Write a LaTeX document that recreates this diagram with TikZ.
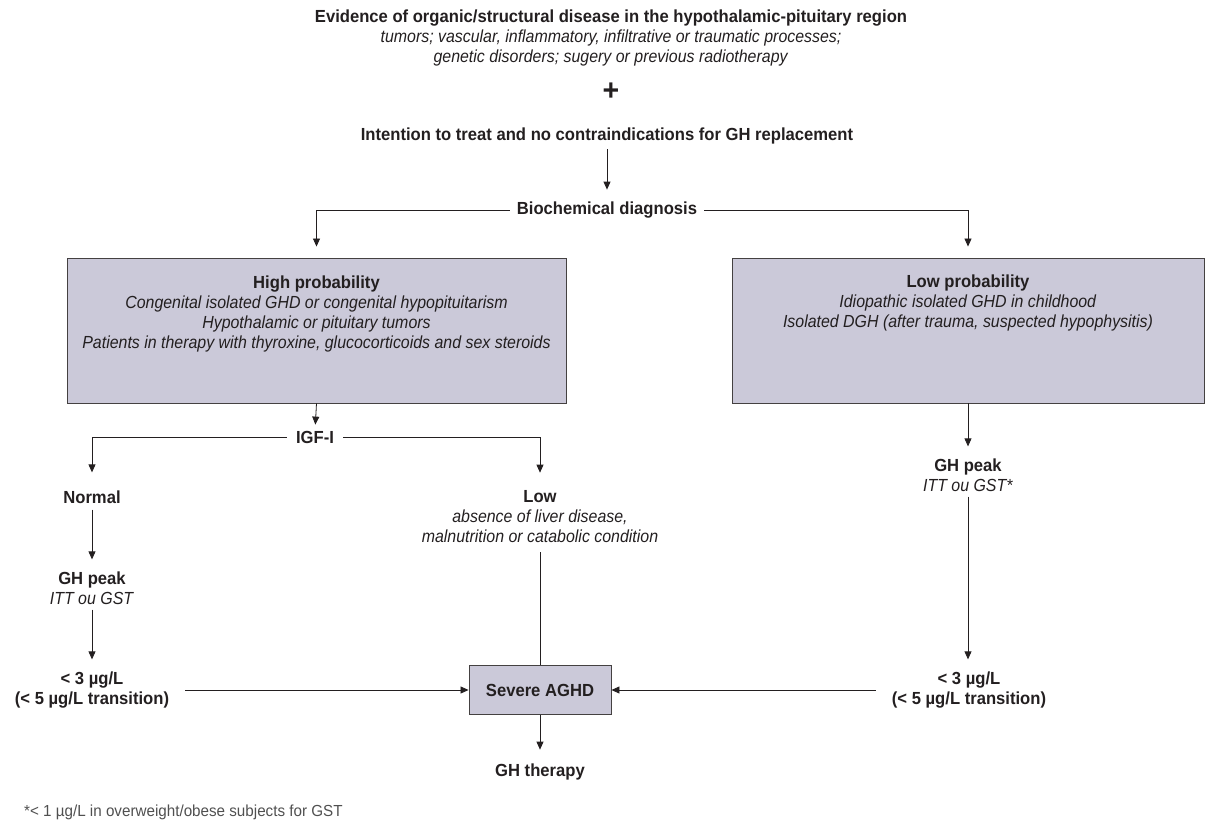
\documentclass[tikz,border=0pt]{standalone}
\usepackage{fontspec}
\setmainfont[FakeStretch=0.95, ItalicFeatures={FakeStretch=0.91}]{Liberation Sans}
\usetikzlibrary{arrows.meta}
\definecolor{ink}{HTML}{231F20}
\definecolor{boxfill}{HTML}{CBC9D9}
\definecolor{notegray}{HTML}{505050}
\begin{document}
\begin{tikzpicture}[x=1pt,y=-1pt,
  txt/.style={text=ink, align=center, inner sep=0pt, font=\fontsize{17.5}{20}\selectfont},
  btxt/.style={txt, font=\fontsize{17.5}{20.5}\selectfont\bfseries},
  probbox/.style={draw=ink!85, fill=boxfill, line width=0.9pt, inner sep=0pt},
  arr/.style={draw=ink, line width=0.8pt, -{Triangle[length=8pt,width=7pt]}},
  ln/.style={draw=ink, line width=0.8pt}]
\useasboundingbox (0,0) rectangle (1219,826);

% top
\node[txt] (title) at (611,38) {\textbf{Evidence of organic/structural disease in the hypothalamic-pituitary region}\\
  \textit{tumors; vascular, inflammatory, infiltrative or traumatic processes;}\\
  \textit{genetic disorders; sugery or previous radiotherapy}};
\node[txt, font=\fontsize{30}{30}\selectfont\bfseries] (plus) at (611,92) {+};
\node[btxt] (intent) at (607,136) {Intention to treat and no contraindications for GH replacement};
\node[btxt] (biochem) at (607,210) {Biochemical diagnosis};

% probability boxes
\node[probbox, minimum width=499pt, minimum height=145pt] (highbox) at (316.5,330.5) {};
\node[txt] (hightxt) at (316.5,313.5) {\textbf{High probability}\\
  \textit{Congenital isolated GHD or congenital hypopituitarism}\\
  \textit{Hypothalamic or pituitary tumors}\\
  \textit{Patients in therapy with thyroxine, glucocorticoids and sex steroids}};
\node[probbox, minimum width=472pt, minimum height=145pt] (lowbox) at (968,330.5) {};
\node[txt] (lowtxt) at (968,303) {\textbf{Low probability}\\
  \textit{Idiopathic isolated GHD in childhood}\\
  \textit{Isolated DGH (after trauma, suspected hypophysitis)}};

% left branch
\node[btxt] (igf) at (315,437) {IGF-I};
\node[btxt] (normal) at (92,497) {Normal};
\node[txt] (low) at (540,517) {\textbf{Low}\\
  \textit{absence of liver disease,}\\
  \textit{malnutrition or catabolic condition}};
\node[txt] (ghpl) at (92,588) {\textbf{GH peak}\\\textit{ITT ou GST}};
\node[btxt] (lt3l) at (92,690) {< 3 µg/L\\(< 5 µg/L transition)};

% right branch
\node[txt] (ghpr) at (968,475) {\textbf{GH peak}\\\textit{ITT ou GST*}};
\node[btxt] (lt3r) at (969,690) {< 3 µg/L\\(< 5 µg/L transition)};

% result
\node[probbox, minimum width=142pt, minimum height=49pt, font=\fontsize{17.5}{20}\selectfont\bfseries, text=ink] (severe) at (540,690) {Severe AGHD};
\node[btxt] (ghth) at (540,772) {GH therapy};

\node[txt, anchor=west, text=notegray, font=\fontsize{16}{18}\selectfont] (note) at (24,812) {*< 1 µg/L in overweight/obese subjects for GST};

% connectors
\draw[arr, shorten <=5pt, shorten >=12pt] (intent.south) -- (biochem.north);
\draw[arr, shorten >=11pt] ([xshift=-7pt]biochem.west) -| (highbox.north);
\draw[arr, shorten >=11pt] ([xshift=7pt]biochem.east) -| (lowbox.north);
\draw[arr, shorten >=6pt] (highbox.south) -- (igf.north);
\draw[arr, shorten >=18pt] ([xshift=-9pt]igf.west) -| (normal.north);
\draw[arr, shorten >=18pt] ([xshift=9pt]igf.east) -| (low.north);
\draw[arr, shorten <=6pt, shorten >=12pt] (normal.south) -- (ghpl.north);
\draw[arr, shorten <=5pt, shorten >=12pt] (ghpl.south) -- (lt3l.north);
\draw[arr] ([xshift=16pt]lt3l.east |- severe.west) -- (severe.west);
\draw[ln, shorten <=9pt] (low.south) -- (severe.north);
\draw[arr, shorten >=12pt] (lowbox.south) -- (ghpr.north);
\draw[arr, shorten <=5pt, shorten >=12pt] (ghpr.south) -- (ghpr.south |- lt3r.north);
\draw[arr] ([xshift=-16pt]lt3r.west |- severe.east) -- (severe.east);
\draw[arr, shorten >=14pt] (severe.south) -- (ghth.north);
\end{tikzpicture}
\end{document}
